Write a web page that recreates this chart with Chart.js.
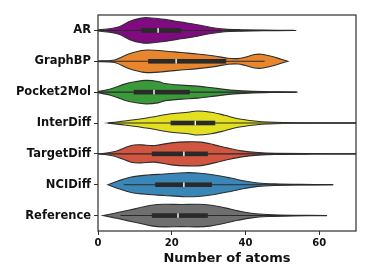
<!DOCTYPE html>
<html>
<head>
<meta charset="utf-8">
<script src="https://cdn.jsdelivr.net/npm/chart.js@4/dist/chart.umd.min.js"></script>
<style>
  html, body { margin: 0; padding: 0; background: #fff; }
  #wrap { width: 374px; height: 280px; }
</style>
</head>
<body>
<div id="wrap"><canvas id="violin"></canvas></div>
<script>
// ===== Number of atoms - violin plot =====

const groups = ['AR', 'GraphBP', 'Pocket2Mol', 'InterDiff', 'TargetDiff', 'NCIDiff', 'Reference'];
const colors = ['#800b80', '#e8862e', '#3a9a3a', '#e2e021', '#d1553f', '#3a87b7', '#6f6f6f'];

const xTicks = [0, 20, 40, 60];

// density profile of each violin (x = number of atoms, d = relative density)
const arX = [0, 3.6, 5.9, 9, 11.8, 13.6, 18, 22.6, 27, 30.7, 34.4, 39, 45, 53];
const arD = [0.05, 0.2, 0.4, 0.97, 1.23, 1.27, 1.1, 0.83, 0.57, 0.3, 0.13, 0.07, 0.03, 0.01];

const graphbpX = [0, 4.5, 8.1, 11.8, 13.6, 18, 22.6, 27, 31.6, 35.3, 38, 39.8, 42.5, 44.3, 47, 49.7, 51.5];
const graphbpD = [0.03, 0.13, 0.7, 1.07, 1.13, 1.03, 0.87, 0.73, 0.53, 0.3, 0.27, 0.4, 0.67, 0.7, 0.5, 0.2, 0];

const pocket2molX = [0, 3.6, 7.2, 10, 13, 16.3, 18, 22.6, 27, 31.6, 36, 40.7, 47, 54];
const pocket2molD = [0.05, 0.33, 0.8, 1.03, 1.17, 1.07, 0.87, 0.7, 0.6, 0.4, 0.2, 0.1, 0.04, 0.01];

const interdiffX = [2.7, 7.2, 13.6, 19.9, 24.4, 27, 30.7, 34.4, 38, 42.5, 46, 55, 70];
const interdiffD = [0, 0.2, 0.53, 0.93, 1.07, 1.2, 1.07, 0.77, 0.43, 0.2, 0.1, 0.03, 0.01];

const targetdiffX = [0.5, 4.5, 9, 11.8, 15.4, 19.9, 24.4, 28, 31.6, 35.3, 39, 43.4, 48, 58, 70];
const targetdiffD = [0, 0.23, 0.83, 0.9, 0.83, 1.1, 1.2, 1.17, 0.9, 0.57, 0.3, 0.13, 0.05, 0.02, 0.01];

const ncidiffX = [2.7, 5.4, 9, 13.6, 18, 23.5, 27, 31.6, 36, 39.8, 43.4, 48, 55, 63.7];
const ncidiffD = [0, 0.37, 0.77, 0.97, 1.07, 1.2, 1.17, 0.97, 0.67, 0.37, 0.17, 0.08, 0.03, 0.01];

const referenceX = [1.4, 5.4, 10, 14.5, 18, 22.6, 27, 30.7, 34.4, 38, 41.6, 46, 53, 62];
const referenceD = [0, 0.3, 0.67, 1.03, 1.13, 1.1, 1.13, 1.03, 0.77, 0.47, 0.23, 0.1, 0.03, 0.01];

const densityX = [arX, graphbpX, pocket2molX, interdiffX, targetdiffX, ncidiffX, referenceX];
const densityD = [arD, graphbpD, pocket2molD, interdiffD, targetdiffD, ncidiffD, referenceD];

// inner box stats
const q1 = [11.8, 13.6, 9.7, 19.7, 14.6, 15.5, 14.6];
const medians = [16.3, 21.2, 15.2, 26.4, 23.3, 23.3, 21.7];
const q3 = [22.6, 34.8, 24.9, 31.8, 29.8, 30.9, 29.8];
const whiskerLo = [0, 0, 0, 2.7, 0, 7, 6.1];
const whiskerHi = [53.8, 45.2, 53.8, 75, 75, 63.7, 61.9];

const EDGE = '#2e2e2e';

function smoothPath(ctx, pts, moveFirst) {
  if (moveFirst) ctx.moveTo(pts[0][0], pts[0][1]);
  else ctx.lineTo(pts[0][0], pts[0][1]);
  for (let i = 0; i < pts.length - 1; i++) {
    const p0 = pts[Math.max(i - 1, 0)];
    const p1 = pts[i];
    const p2 = pts[i + 1];
    const p3 = pts[Math.min(i + 2, pts.length - 1)];
    const c1x = p1[0] + (p2[0] - p0[0]) / 6;
    const c1y = p1[1] + (p2[1] - p0[1]) / 6;
    const c2x = p2[0] - (p3[0] - p1[0]) / 6;
    const c2y = p2[1] - (p3[1] - p1[1]) / 6;
    ctx.bezierCurveTo(c1x, c1y, c2x, c2y, p2[0], p2[1]);
  }
}

const violinPlugin = {
  id: 'violins',
  afterDatasetsDraw(chart) {
    const { ctx, chartArea: area, scales: { x, y } } = chart;
    const band = y.getPixelForValue(1) - y.getPixelForValue(0);
    const k = 10 * band / 30.8;

    ctx.save();
    ctx.beginPath();
    ctx.rect(area.left, area.top, area.right - area.left, area.bottom - area.top);
    ctx.clip();

    groups.forEach((g, i) => {
      const cy = y.getPixelForValue(i);
      const xs = densityX[i], ds = densityD[i];
      const upper = xs.map((v, j) => [x.getPixelForValue(v), cy - ds[j] * k]);
      const lower = xs.map((v, j) => [x.getPixelForValue(v), cy + ds[j] * k]).reverse();

      ctx.beginPath();
      smoothPath(ctx, upper, true);
      smoothPath(ctx, lower, false);
      ctx.closePath();
      ctx.fillStyle = colors[i];
      ctx.fill();
      ctx.lineWidth = 1.1;
      ctx.strokeStyle = EDGE;
      ctx.stroke();

      // whisker line
      ctx.beginPath();
      ctx.moveTo(x.getPixelForValue(whiskerLo[i]), cy);
      ctx.lineTo(x.getPixelForValue(whiskerHi[i]), cy);
      ctx.lineWidth = 1.1;
      ctx.strokeStyle = '#2a2a2a';
      ctx.stroke();

      // box
      const bx0 = x.getPixelForValue(q1[i]);
      const bx1 = x.getPixelForValue(q3[i]);
      ctx.fillStyle = '#2a2a2a';
      ctx.fillRect(bx0, cy - 2.3, bx1 - bx0, 4.6);

      // median
      const mx = x.getPixelForValue(medians[i]);
      ctx.fillStyle = '#ffffff';
      ctx.fillRect(mx - 0.7, cy - 2.3, 1.4, 4.6);
    });
    ctx.restore();

    // frame
    ctx.save();
    ctx.strokeStyle = EDGE;
    ctx.lineWidth = 1.2;
    ctx.strokeRect(area.left, area.top, area.right - area.left, area.bottom - area.top);
    ctx.restore();
  }
};

new Chart(document.getElementById('violin'), {
  type: 'scatter',
  data: { datasets: [] },
  options: {
    responsive: true,
    maintainAspectRatio: false,
    animation: false,
    layout: { padding: { top: 15, right: 18, left: 0, bottom: 14 } },
    plugins: { legend: { display: false }, tooltip: { enabled: false } },
    scales: {
      x: {
        type: 'linear',
        min: 0,
        max: 70,
        afterBuildTicks: (scale) => { scale.ticks = xTicks.map(v => ({ value: v })); },
        afterFit: (scale) => { scale.height = 35; },
        grid: { drawOnChartArea: false, tickLength: 4, color: EDGE, tickWidth: 1 },
        border: { display: false },
        ticks: { color: '#111', padding: 2, font: { family: 'DejaVu Sans', size: 10, weight: 'bold' } },
        title: {
          display: true,
          text: 'Number of atoms',
          color: '#111',
          padding: { top: 1, bottom: 0 },
          font: { family: 'DejaVu Sans', size: 13, weight: 'bold' }
        }
      },
      y: {
        type: 'category',
        labels: groups,
        offset: true,
        afterFit: (scale) => { scale.width = 98; },
        grid: { drawOnChartArea: false, offset: false, tickLength: 4, color: EDGE, tickWidth: 1 },
        border: { display: false },
        ticks: { color: '#111', padding: 3, font: { family: 'DejaVu Sans', size: 11.5, weight: 'bold' } }
      }
    }
  },
  plugins: [violinPlugin]
});
</script>
</body>
</html>
